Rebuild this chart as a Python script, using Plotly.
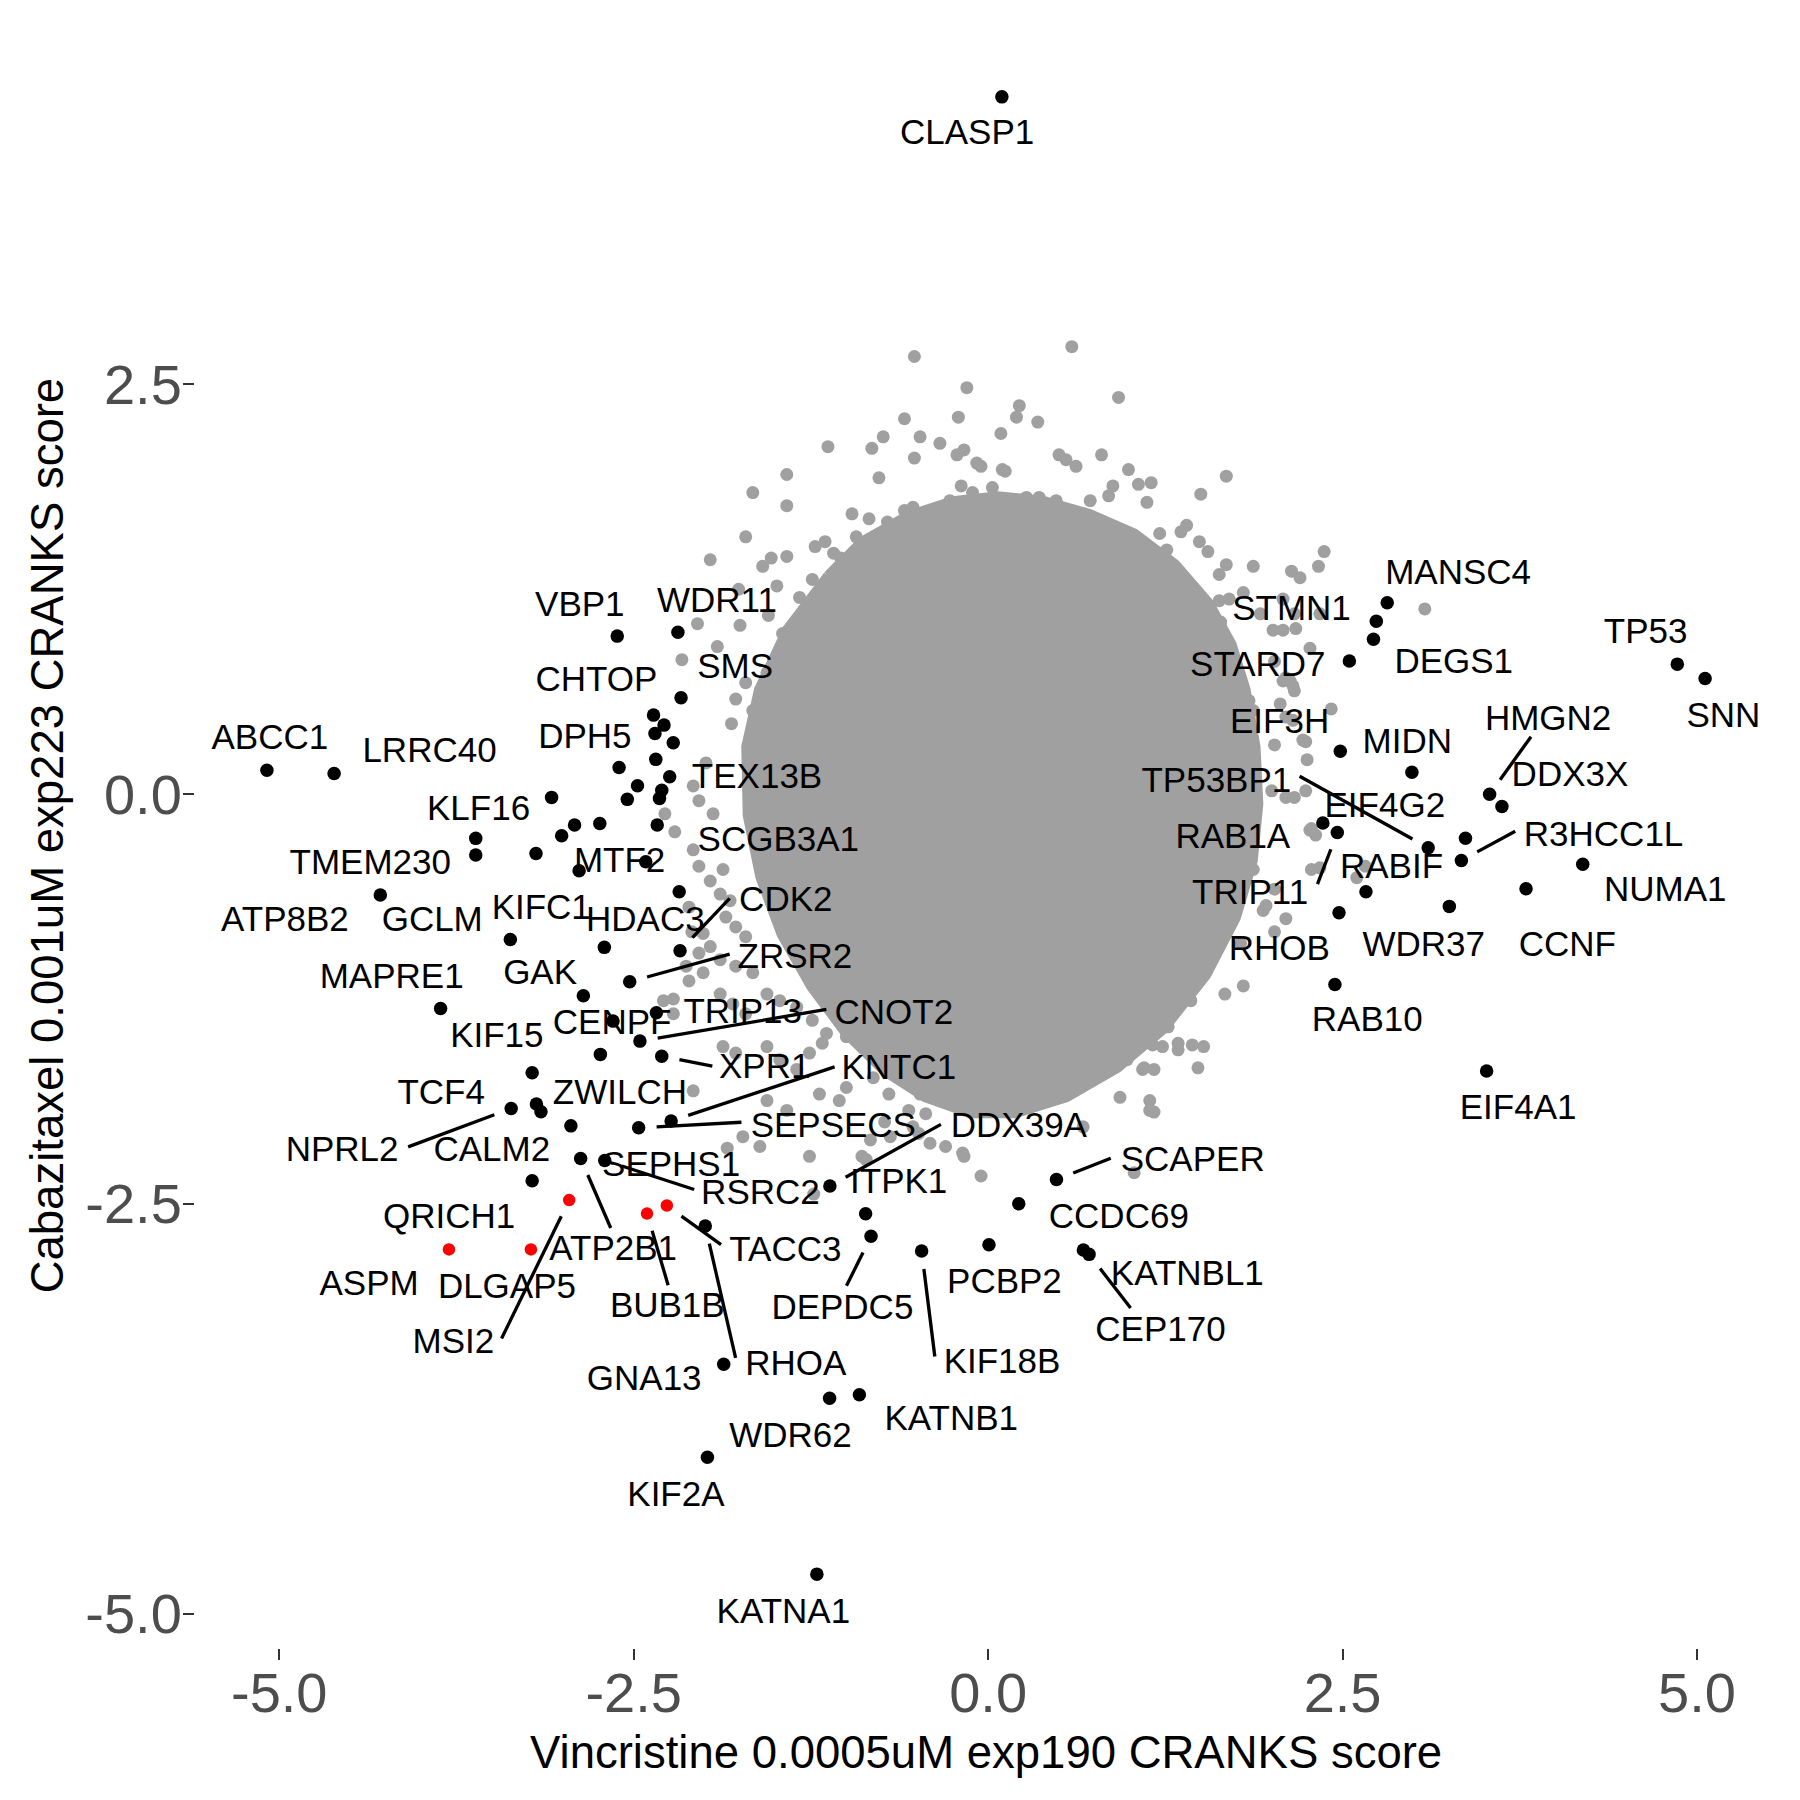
import math
import plotly.graph_objects as go

# ---------------- data ----------------
# labelled / highlighted genes (black points)
hit_names = ["CLASP1", "VBP1", "WDR11", "SMS", "CHTOP", "", "", "", "", "DPH5", "TEX13B", "", "", "", "",
             "ABCC1", "LRRC40", "KLF16", "", "", "", "TMEM230", "", "", "SCGB3A1", "MTF2", "", "",
             "ATP8B2", "GCLM", "HDAC3", "CDK2", "ZRSR2", "GAK", "MAPRE1", "TRIP13", "CENPF", "CNOT2",
             "XPR1", "KIF15", "TCF4", "NPRL2", "", "CALM2", "ZWILCH", "SEPSECS", "KNTC1", "ATP2B1",
             "RSRC2", "QRICH1", "DDX39A", "ITPK1", "DEPDC5", "RHOA", "GNA13", "KIF18B", "PCBP2", "CCDC69",
             "SCAPER", "KATNBL1", "CEP170", "WDR62", "KATNB1", "KIF2A", "KATNA1",
             "MANSC4", "STMN1", "DEGS1", "STARD7", "TP53", "SNN", "EIF3H", "MIDN", "HMGN2", "DDX3X",
             "RAB1A", "TRIP11", "TP53BP1", "EIF4G2", "R3HCC1L", "NUMA1", "CCNF", "WDR37", "RABIF",
             "RHOB", "RAB10", "EIF4A1"]
hit_x = [0.097, -2.616, -2.188, -2.166, -2.360, -2.286, -2.350, -2.221, -2.344, -2.603, -2.246, -2.473, -2.302,
         -2.318, -2.545,
         -5.087, -4.613, -3.079, -2.917, -2.739, -3.008, -3.614, -3.614, -3.189, -2.334, -2.415, -2.885, -2.179,
         -4.287, -3.370, -2.707, -2.173, -2.528, -2.855, -3.862, -2.340, -2.646, -2.456,
         -2.302, -2.735, -3.216, -3.364, -3.186, -3.154, -2.943, -2.465, -2.236, -2.874,
         -2.704, -3.216, -1.116, -0.864, -0.826, -1.995, -1.865, -0.469, 0.006, 0.216,
         0.482, 0.672, 0.712, -1.118, -0.908, -1.980, -1.208,
         2.815, 2.738, 2.718, 2.548, 4.861, 5.057, 2.484, 2.989, 3.537, 3.624,
         2.361, 2.463, 3.104, 3.367, 3.338, 4.194, 3.794, 3.253, 2.665,
         2.475, 2.446, 3.516]
hit_y = [4.254, 0.964, 0.987, 0.588, 0.482, 0.421, 0.370, 0.313, 0.212, 0.163, 0.106, 0.051, 0.024, -0.026, -0.032,
         0.146, 0.126, -0.020, -0.189, -0.179, -0.254, -0.270, -0.372, -0.362, -0.189, -0.413, -0.468, -0.596,
         -0.616, -0.887, -0.935, -0.956, -1.145, -1.230, -1.308, -1.334, -1.385, -1.507,
         -1.599, -1.588, -1.700, -1.918, -1.891, -1.938, -2.024, -2.036, -1.995, -2.223,
         -2.235, -2.359, -2.391, -2.560, -2.698, -2.635, -3.478, -2.788, -2.749, -2.499,
         -2.351, -2.782, -2.808, -3.686, -3.664, -4.046, -4.759,
         1.167, 1.055, 0.945, 0.812, 0.793, 0.705, 0.261, 0.133, -0.001, -0.075,
         -0.176, -0.234, -0.327, -0.269, -0.405, -0.428, -0.577, -0.685, -0.596,
         -0.724, -1.161, -1.689]

# highlighted genes in red
red_names = ["ASPM", "DLGAP5", "MSI2", "BUB1B", "TACC3"]
red_x = [-3.803, -3.225, -2.955, -2.406, -2.266]
red_y = [-2.778, -2.778, -2.477, -2.559, -2.510]

# background genes (grey): outline of the dense, fully overlapping core + individually visible points
core_x = [-1.14, -0.90, -0.57, -0.25, 0.07, 0.40, 0.72, 1.04, 1.33, 1.57, 1.73, 1.83, 1.90, 1.92, 1.88, 1.76,
          1.55, 1.25, 0.92, 0.56, 0.19, -0.13, -0.45, -0.74, -1.02, -1.26, -1.47, -1.62, -1.71, -1.72, -1.63,
          -1.43]
core_y = [1.34, 1.55, 1.71, 1.80, 1.83, 1.80, 1.72, 1.60, 1.41, 1.17, 0.92, 0.64, 0.29, -0.06, -0.41, -0.76,
          -1.11, -1.44, -1.68, -1.86, -1.96, -1.96, -1.86, -1.70, -1.46, -1.18, -0.86, -0.51, -0.13, 0.29, 0.64,
          1.01]
gray_x = [-0.52, -0.15, -0.59, -0.21, -0.74, -0.82, -0.48, -0.34, -0.52, -0.22, -0.17, -0.08, -1.13, -0.77,
          -1.42, -1.66, -1.42, -1.71, -1.96, -1.59, -1.53, -1.42, -1.49, -1.76, -2.05, -1.75, -1.55, -1.45,
          -1.91, -2.16, -1.78, -1.81, -1.99, -1.22, -1.15, -1.09, -1.04, -0.96, -0.84, -0.71, -0.93, -0.89,
          -0.59, -0.53, -0.35, -0.19, -0.27, -0.18, -0.11, -1.34, -1.33, -1.24, -1.22, -1.19, -1.71, -1.56,
          -1.42, -1.66, -1.56, -1.66, -1.47, -1.35, -1.28, -1.24, 0.59, 0.92, 0.22, 0.20, 0.35, 0.09, -0.05,
          0.12, 0.50, 0.55, 0.62, 0.80, 0.99, 1.06, 1.15, 0.88, 0.85, 0.72, 1.68, 1.50, 1.40, 1.36, 1.49,
          1.55, 1.68, 1.63, 1.87, 2.14, 2.20, 2.37, 2.33, 1.63, 1.80, 1.92, 2.01, 2.17, 2.27, 2.34, 1.52,
          1.59, 2.10, 2.15, 1.79, 1.84, 1.87, 2.06, 2.15, 2.24, 2.42, 1.80, 1.12, 1.21, 1.26, 0.27, 0.36,
          0.48, -0.10, 0.03, 0.10, -2.08, -2.04, -1.94, -2.28, -2.21, -2.08, -2.04, -1.96, -1.87, -2.11,
          -1.89, -1.82, -1.85, -1.78, -1.71, -2.01, -1.96, -1.89, -1.78, -1.66, -2.13, -2.11, -2.29, -2.22,
          -1.89, -1.80, -1.71, -1.56, -1.47, -1.35, -1.24, -1.14, -1.00, -1.87, -1.78, -1.56, -1.47, -1.35,
          -1.26, -1.17, -0.88, -0.77, -0.65, -0.53, -2.08, -1.73, -1.61, -1.56, -1.42, -1.19, -1.05, -1.00,
          -0.81, -0.70, -0.58, -0.48, -0.34, -0.22, -0.41, -0.30, -0.18, -1.26, -0.86, -0.53, -0.44, -0.11,
          -0.08, 2.24, 2.10, 2.00, 2.27, 2.34, 1.87, 2.02, 1.70, 1.94, 2.10, 1.54, 1.44, 1.54, 1.30, 1.42,
          1.67, 1.80, 1.35, 1.26, 1.12, 1.09, 1.05, 1.07, 1.27, 1.16, 1.23, 1.34, 1.44, 1.52, 1.48, 1.10,
          0.93, 0.90, 0.81, 0.98, 0.67, 0.69, 0.58, 0.67, 0.46, 0.41, 0.50, 0.29, 0.18, 0.03, -0.06, -0.01,
          -0.08, -0.13, 0.93, 1.14, 1.14, 0.67, -0.17, -0.05, 1.03, 1.09, 1.70, 1.64, 2.08, 2.16, 2.08,
          2.02, 2.13, 2.16, 2.08, 2.10, 2.22, 2.25, 2.02, 1.87, 2.16, 2.28, 2.31, 2.28, 1.96, 2.02, 2.66,
          2.60, 1.78, 1.49, 1.43, 1.32, 1.23, 1.34, 1.17, 1.17, 3.08, -2.09, -2.04, -2.01, -2.22, -1.84,
          -0.89, -0.83, -0.69, -0.49, -0.73, -0.56, -1.23]
gray_y = [2.67, 2.48, 2.29, 2.30, 2.18, 2.11, 2.18, 2.14, 2.05, 2.07, 2.10, 2.02, 2.12, 1.93, 1.95, 1.84, 1.76,
          1.57, 1.43, 1.39, 1.44, 1.45, 1.27, 1.25, 1.04, 1.03, 1.09, 0.98, 0.90, 0.82, 0.58, 0.43, 0.19,
          1.51, 1.54, 1.47, 1.44, 1.71, 1.68, 1.66, 1.57, 1.49, 1.73, 1.75, 1.72, 1.88, 1.79, 1.69, 1.84,
          0.98, 1.20, 1.31, 1.12, 1.02, 0.68, 0.74, 0.80, 0.51, 0.33, 0.19, 0.25, 0.45, 0.57, 0.82, 2.73,
          2.42, 2.37, 2.30, 2.27, 2.20, 2.00, 1.97, 2.07, 2.04, 2.00, 2.07, 1.98, 1.89, 1.90, 1.88, 1.82,
          1.79, 1.94, 1.83, 1.64, 1.60, 1.54, 1.48, 1.40, 1.34, 1.39, 1.36, 1.32, 1.48, 1.39, 1.18, 1.23,
          1.10, 1.00, 1.01, 0.89, 1.10, 1.04, 0.95, 0.71, 0.66, 0.66, 0.57, 0.51, 0.55, 0.45, 0.32, 0.52,
          0.31, 1.78, 1.59, 1.49, 1.81, 1.81, 1.79, 1.79, 1.87, 1.98, 0.05, -0.04, -0.12, -0.12, -0.23,
          -0.34, -0.44, -0.53, -0.46, -0.69, -0.61, -0.65, -0.75, -0.81, -0.87, -0.85, -0.93, -1.01, -1.05,
          -1.09, -1.05, -1.14, -1.26, -1.34, -1.22, -1.28, -1.34, -1.22, -1.26, -1.30, -1.38, -1.46, -1.48,
          -1.54, -1.58, -1.54, -1.62, -1.68, -1.58, -1.52, -1.52, -1.58, -1.58, -1.52, -1.81, -2.09, -2.15,
          -1.87, -1.93, -1.83, -1.87, -1.79, -1.73, -1.83, -1.75, -1.83, -1.79, -1.75, -2.13, -2.15, -2.19,
          -2.21, -2.23, -2.03, -1.95, -1.62, -1.50, 0.02, -0.02, 0.02, -0.22, -0.45, -0.46, -0.58, -0.72,
          -0.71, -0.76, -0.84, -0.93, -1.01, -1.01, -1.07, -1.22, -1.17, -1.26, -1.20, -1.18, -1.26, -1.38,
          -1.48, -1.42, -1.53, -1.54, -1.56, -1.53, -1.54, -1.67, -1.67, -1.34, -1.46, -1.58, -1.62, -1.46,
          -1.54, -1.66, -1.75, -1.64, -1.75, -1.81, -1.75, -1.86, -1.78, -1.83, -1.89, -1.77, -1.62, -1.85,
          -1.87, -1.93, -2.03, -2.21, -2.33, -2.31, -1.68, 1.19, 1.05, 1.19, 1.10, 1.00, 0.81, 0.69, 0.63,
          0.69, 0.47, 0.33, 0.21, 0.30, 0.23, -0.02, -0.21, -0.25, -0.46, -0.68, -0.84, -0.44, -0.51, -0.91,
          -1.10, -1.26, -1.10, -1.19, -1.52, -1.68, -1.94, 1.13, -0.84, -0.97, -1.09, -1.25, -2.16, -2.21,
          -2.11, -2.09, -2.07, -2.00, -1.93, -2.44]

# text labels (ggrepel placement, data units)
label_text = ["CLASP1", "VBP1", "WDR11", "CHTOP", "SMS", "DPH5", "ABCC1", "LRRC40", "TEX13B", "KLF16",
              "SCGB3A1", "TMEM230", "MTF2", "ATP8B2", "GCLM", "KIFC1", "HDAC3", "CDK2", "ZRSR2", "MAPRE1",
              "GAK", "KIF15", "CENPF", "TRIP13", "CNOT2", "XPR1", "KNTC1", "TCF4", "ZWILCH", "SEPSECS",
              "DDX39A", "NPRL2", "CALM2", "SEPHS1", "RSRC2", "ITPK1", "SCAPER", "QRICH1", "ATP2B1", "TACC3",
              "CCDC69", "ASPM", "DLGAP5", "BUB1B", "DEPDC5", "PCBP2", "KATNBL1", "MSI2", "CEP170", "RHOA",
              "KIF18B", "GNA13", "WDR62", "KATNB1", "KIF2A", "KATNA1", "MANSC4", "STMN1", "DEGS1", "STARD7",
              "TP53", "SNN", "EIF3H", "MIDN", "HMGN2", "DDX3X", "TP53BP1", "EIF4G2", "RAB1A", "R3HCC1L",
              "RABIF", "NUMA1", "TRIP11", "WDR37", "CCNF", "RHOB", "RAB10", "EIF4A1"]
label_x = [-0.148, -2.880, -1.913, -2.763, -1.784, -2.844, -5.066, -3.940, -1.630, -3.594,
           -1.480, -4.358, -2.599, -4.960, -3.921, -3.152, -2.418, -1.427, -1.363, -4.207,
           -3.160, -3.465, -2.652, -1.731, -0.665, -1.576, -0.630, -3.858, -2.597, -1.092,
           0.217, -4.557, -3.501, -2.236, -1.606, -0.631, 1.443, -3.802, -2.645, -1.430,
           0.922, -4.366, -3.394, -2.263, -1.028, 0.115, 1.405, -3.772, 1.216, -1.356,
           0.098, -2.426, -1.394, -0.260, -2.202, -1.444, 3.315, 2.140, 3.284, 1.902,
           4.638, 5.186, 2.056, 2.956, 3.950, 4.104, 1.610, 2.798, 1.726, 4.341,
           2.845, 4.776, 1.848, 3.073, 4.085, 2.053, 2.674, 3.738]
label_y = [4.046, 1.168, 1.189, 0.711, 0.787, 0.365, 0.355, 0.274, 0.116, -0.075,
           -0.265, -0.405, -0.396, -0.754, -0.754, -0.682, -0.754, -0.632, -0.979, -1.104,
           -1.079, -1.465, -1.384, -1.318, -1.323, -1.653, -1.659, -1.811, -1.811, -2.009,
           -2.009, -2.157, -2.157, -2.248, -2.421, -2.350, -2.219, -2.564, -2.762, -2.768,
           -2.564, -2.976, -2.996, -3.107, -3.120, -2.962, -2.916, -3.331, -3.253, -3.461,
           -3.449, -3.556, -3.902, -3.797, -4.264, -4.974, 1.365, 1.144, 0.821, 0.803,
           1.000, 0.491, 0.453, 0.333, 0.470, 0.131, 0.096, -0.056, -0.248, -0.234,
           -0.430, -0.570, -0.588, -0.907, -0.907, -0.934, -1.367, -1.901]

# leader segments: gene -> end point at the label side (data units)
leader_gene = ["TP53BP1", "HMGN2", "R3HCC1L", "TRIP11", "SEPSECS", "KNTC1", "DDX39A", "SCAPER", "RSRC2",
               "ATP2B1", "BUB1B", "TACC3", "RHOA", "DEPDC5", "KIF18B", "CEP170", "NPRL2", "MSI2", "CNOT2",
               "XPR1", "ZRSR2", "CDK2"]
leader_end_x = [2.197, 3.829, 3.718, 2.323, -1.740, -1.083, -0.333, 0.865, -2.073,
                -2.662, -2.257, -1.884, -1.781, -0.999, -0.376, 1.005, -4.091, -3.432, -1.141,
                -1.945, -1.823, -1.823]
leader_end_y = [0.109, 0.350, -0.227, -0.549, -2.002, -1.664, -2.015, -2.222, -2.412,
                -2.647, -2.996, -2.749, -3.440, -3.000, -3.431, -3.135, -2.152, -3.321, -1.314,
                -1.660, -0.976, -0.636]

# ---------------- layout constants ----------------
W, H = 1800, 1800
ML, MR, MT, MB = 187, 31, 15, 160   # page has an 8px body margin -> panel at x 195..1777, y 23..1648
FONT = "Liberation Sans, Arial, Helvetica, sans-serif"
GREY = "#A0A0A0"

all_x = hit_x + red_x + gray_x
all_y = hit_y + red_y + gray_y
xr = max(all_x) - min(all_x)
yr = max(all_y) - min(all_y)
x_range = [min(all_x) - 0.05 * xr, max(all_x) + 0.05 * xr]
y_range = [min(all_y) - 0.05 * yr, max(all_y) + 0.05 * yr]
px_x = (W - ML - MR) / (x_range[1] - x_range[0])
px_y = (H - MT - MB) / (y_range[1] - y_range[0])

# point lookup for leader lines
pos = {n: (x, y) for n, x, y in zip(hit_names, hit_x, hit_y) if n}
pos.update({n: (x, y) for n, x, y in zip(red_names, red_x, red_y)})

seg_x, seg_y = [], []
GAP = 18  # pixels between point and segment start
for g, ex, ey in zip(leader_gene, leader_end_x, leader_end_y):
    px0, py0 = pos[g]
    dxp = (ex - px0) * px_x
    dyp = (ey - py0) * px_y
    d = math.hypot(dxp, dyp)
    sx = px0 + (dxp / d * GAP) / px_x
    sy = py0 + (dyp / d * GAP) / px_y
    seg_x += [sx, ex, None]
    seg_y += [sy, ey, None]

# text baseline correction (px -> data)
label_y_draw = [v - 4.5 / px_y for v in label_y]

fig = go.Figure()
fig.add_trace(go.Scatter(x=core_x + [core_x[0]], y=core_y + [core_y[0]], mode="lines", fill="toself",
                         fillcolor=GREY, line=dict(color=GREY, width=6),
                         hoverinfo="skip", showlegend=False))
fig.add_trace(go.Scatter(x=gray_x, y=gray_y, mode="markers",
                         marker=dict(color=GREY, size=13, line=dict(width=0)), showlegend=False))
fig.add_trace(go.Scatter(x=hit_x, y=hit_y, mode="markers", text=hit_names,
                         marker=dict(color="black", size=13.5, line=dict(width=0)), showlegend=False))
fig.add_trace(go.Scatter(x=red_x, y=red_y, mode="markers", text=red_names,
                         marker=dict(color="#FF0000", size=12.5, line=dict(width=0)), showlegend=False))
fig.add_trace(go.Scatter(x=seg_x, y=seg_y, mode="lines", line=dict(color="black", width=3.3),
                         hoverinfo="skip", showlegend=False))
fig.add_trace(go.Scatter(x=label_x, y=label_y_draw, mode="text", text=label_text, textposition="middle center",
                         textfont=dict(family=FONT, size=35, color="black"), cliponaxis=False,
                         hoverinfo="skip", showlegend=False))

tickvals = [-5, -2.5, 0, 2.5, 5]
ticktext = ["-5.0", "-2.5", "0.0", "2.5", "5.0"]
axis_common = dict(showgrid=False, zeroline=False, showline=False, ticks="outside", ticklen=11, tickwidth=2,
                   tickcolor="#333333", tickvals=tickvals, ticktext=ticktext, automargin=False,
                   tickfont=dict(family=FONT, size=56, color="#4D4D4D"))
fig.update_layout(
    width=W, height=H, margin=dict(l=ML, r=MR, t=MT, b=MB, autoexpand=False),
    plot_bgcolor="white", paper_bgcolor="white", showlegend=False,
    xaxis=dict(range=x_range, ticklabelstandoff=-15, **axis_common),
    yaxis=dict(range=y_range, ticklabelstandoff=-10, **axis_common),
    annotations=[
        dict(text="Vincristine 0.0005uM exp190 CRANKS score", xref="paper", yref="paper", x=0.5, y=-0.0640,
             xanchor="center", yanchor="middle", showarrow=False, font=dict(family=FONT, size=45.5, color="black")),
        dict(text="Cabazitaxel 0.001uM exp223 CRANKS score", xref="paper", yref="paper", x=-0.093, y=0.5,
             xanchor="center", yanchor="middle", textangle=-90, showarrow=False,
             font=dict(family=FONT, size=45.5, color="black")),
    ],
)

fig.write_html("out.html")
